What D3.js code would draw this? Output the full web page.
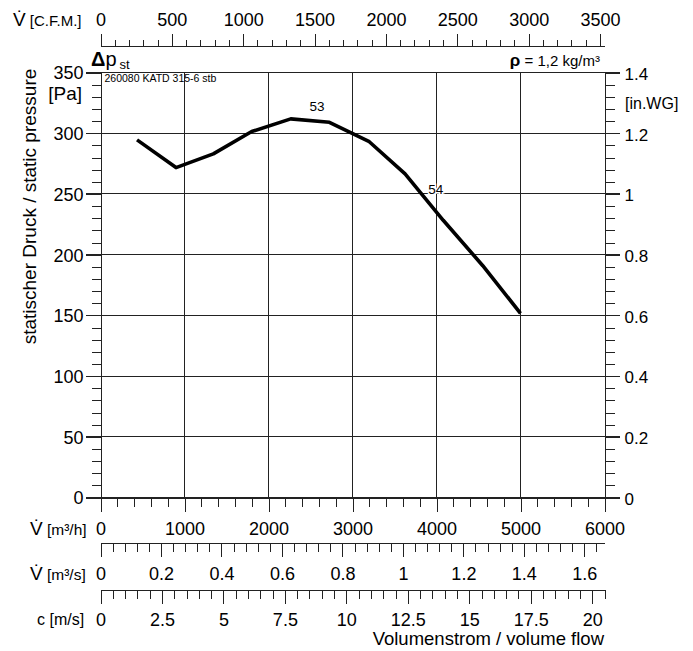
<!DOCTYPE html>
<html>
<head>
<meta charset="utf-8">
<script src="https://cdn.jsdelivr.net/npm/d3@7"></script>
<style>
  body { margin: 0; background: #fff; }
  svg text { font-family: "Liberation Sans", Arial, sans-serif; fill: #000; }
  .axis path, .axis line { stroke: #222; shape-rendering: crispEdges; }
</style>
</head>
<body>
<div id="chart"></div>
<script>
// fan curve, volume flow in m3/h vs static pressure in Pa
var flowM3h = [435, 899, 1343, 1800, 2265, 2725, 3200, 3626, 4080, 4551, 5000];
var pressurePa = [294.5, 271.7, 283, 301.4, 311.8, 309, 293, 266.5, 228.3, 190.9, 151.7];

// curve marks (label, flow, pressure)
var markText = ["53", "54"];
var markFlow = [2578, 3990];
var markPa = [318.7, 250];

// tick labels of each scale
var m3hTicks = [0, 1000, 2000, 3000, 4000, 5000, 6000];
var m3sTicks = [0, 0.2, 0.4, 0.6, 0.8, 1, 1.2, 1.4, 1.6];
var cTicks = [0, 2.5, 5, 7.5, 10, 12.5, 15, 17.5, 20];
var cfmTicks = [0, 500, 1000, 1500, 2000, 2500, 3000, 3500];
var paTicks = [0, 50, 100, 150, 200, 250, 300, 350];
var inwgTicks = [0, 0.2, 0.4, 0.6, 0.8, 1, 1.2, 1.4];

var svgWidth = 693;
var svgHeight = 651;

// plot box
var pLeft = 100.5, pRight = 604.5, pTop = 72.5, pBottom = 497.5;

var svg = d3.select("#chart")
  .append("svg")
  .attr("width", svgWidth)
  .attr("height", svgHeight);

// scales
var x = d3.scaleLinear().domain([0, 6000]).range([pLeft, pRight]);
var xs = d3.scaleLinear().domain([0, 6000 / 3600]).range([pLeft, pRight]);
var xc = d3.scaleLinear().domain([0, 20.5]).range([pLeft, pRight]);
var xcfm = d3.scaleLinear().domain([0, 6000 / 1.699]).range([pLeft, pRight]);
var y = d3.scaleLinear().domain([0, 350]).range([pBottom, pTop]);
var yw = d3.scaleLinear().domain([0, 1.4]).range([pBottom, pTop]);

function fmt(d) { return String(d); }

function addAxis(gy, axisFn, scale, majors, minors, majLen, minLen, labelPos) {
  var g = svg.append("g")
    .attr("class", "axis")
    .attr("transform", gy);
  g.append("g")
    .call(axisFn(scale).tickValues(minors).tickSize(minLen).tickSizeOuter(0).tickFormat(""));
  var m = g.append("g")
    .call(axisFn(scale).tickValues(majors).tickSize(majLen).tickSizeOuter(0).tickFormat(fmt));
  m.selectAll("text").attr("font-size", 18).attr("fill", "#000");
  labelPos(m.selectAll("text"));
  g.selectAll(".tick line").attr("stroke", "#222");
  return g;
}

function steps(a, b, s) {
  var out = [];
  for (var v = a; v <= b + 1e-9; v += s) out.push(+v.toFixed(4));
  return out;
}

// gridlines
var grid = svg.append("g").attr("class", "axis");
grid.selectAll(".vg")
  .data(m3hTicks.slice(1, -1))
  .enter()
  .append("line")
  .attr("x1", d => x(d)).attr("x2", d => x(d))
  .attr("y1", pTop).attr("y2", pBottom)
  .attr("stroke", "#333");
grid.selectAll(".hg")
  .data(paTicks)
  .enter()
  .append("line")
  .attr("x1", pLeft - 15).attr("x2", pRight + 15)
  .attr("y1", d => y(d)).attr("y2", d => y(d))
  .attr("stroke", "#333");

// bottom m3/h
addAxis(`translate(0,${pBottom})`, d3.axisBottom, x, m3hTicks, steps(0, 6000, 200), 14, 9,
  t => t.attr("y", 37).attr("dy", 0));

// m3/s
addAxis(`translate(0,542.5)`, d3.axisBottom, xs, m3sTicks, steps(0, 1.66, 0.04), 14, 9,
  t => t.attr("y", 37).attr("dy", 0));

// c m/s
addAxis(`translate(0,589.5)`, d3.axisBottom, xc, cTicks, steps(0, 20.5, 0.5), 14, 9,
  t => t.attr("y", 36).attr("dy", 0));

// CFM top
addAxis(`translate(0,45.5)`, d3.axisTop, xcfm, cfmTicks, steps(0, 3500, 100), 11.5, 5.5,
  t => t.attr("y", -19.5).attr("dy", 0));

// left Pa
addAxis(`translate(${pLeft},0)`, d3.axisLeft, y, paTicks, steps(0, 350, 10), 15, 8.5,
  t => t.attr("x", -17).attr("dy", "0.36em"));

// right in.WG
addAxis(`translate(${pRight},0)`, d3.axisRight, yw, inwgTicks, steps(0, 1.4, 0.04), 15, 10,
  t => t.attr("x", 20).attr("dy", "0.4em").attr("font-size", 17));

// curve
var line = d3.line()
  .x((d, i) => x(flowM3h[i]))
  .y(d => y(d));

svg.append("path")
  .datum(pressurePa)
  .attr("d", line)
  .attr("fill", "none")
  .attr("stroke", "#000")
  .attr("stroke-width", 3.6)
  .attr("stroke-linejoin", "round");

// marks on curve
markText.forEach(function (t, i) {
  svg.append("text")
    .attr("x", x(markFlow[i]))
    .attr("y", y(markPa[i]))
    .attr("text-anchor", "middle")
    .attr("font-size", 13.5)
    .attr("stroke", "#fff")
    .attr("stroke-width", 3)
    .attr("paint-order", "stroke")
    .text(t);
});

// labels
svg.append("text")
  .attr("transform", "translate(36,206.5) rotate(-90)")
  .attr("text-anchor", "middle")
  .attr("font-size", 19)
  .text("statischer Druck / static pressure");

svg.append("text")
  .attr("x", 82).attr("y", 100)
  .attr("text-anchor", "end")
  .attr("font-size", 19)
  .text("[Pa]");

svg.append("text")
  .attr("x", 625).attr("y", 108.5)
  .attr("font-size", 16)
  .text("[in.WG]");

var dp = svg.append("text").attr("x", 91).attr("y", 65.5);
dp.append("tspan").attr("font-size", 20).attr("font-weight", "bold").text("\u0394");
dp.append("tspan").attr("font-size", 20).text("p");
dp.append("tspan").attr("font-size", 13).attr("dx", 3).attr("dy", 3.5).text("st");

svg.append("text")
  .attr("x", 104.5).attr("y", 82)
  .attr("font-size", 10.5)
  .text("260080 KATD 315-6 stb");

var rho = svg.append("text").attr("x", 600).attr("y", 65.5).attr("text-anchor", "end").attr("font-size", 15);
rho.append("tspan").attr("font-weight", "bold").attr("font-size", 17).text("\u03C1");
rho.append("tspan").text(" = 1,2 kg/m\u00B3");

function unitLabel(xv, yv, big, rest, restSize) {
  var t = svg.append("text").attr("x", xv).attr("y", yv);
  t.append("tspan").attr("font-size", 19).text(big);
  t.append("tspan").attr("font-size", restSize).text(rest);
}
unitLabel(13, 26, "V\u0307", " [C.F.M.]", 15);
unitLabel(30, 534.5, "V\u0307", " [m\u00B3/h]", 15.5);
unitLabel(30, 579.5, "V\u0307", " [m\u00B3/s]", 15.5);

svg.append("text")
  .attr("x", 37).attr("y", 625)
  .attr("font-size", 16)
  .text("c [m/s]");

svg.append("text")
  .attr("x", 604).attr("y", 645)
  .attr("text-anchor", "end")
  .attr("font-size", 18.5)
  .text("Volumenstrom / volume flow");
</script>
</body>
</html>
